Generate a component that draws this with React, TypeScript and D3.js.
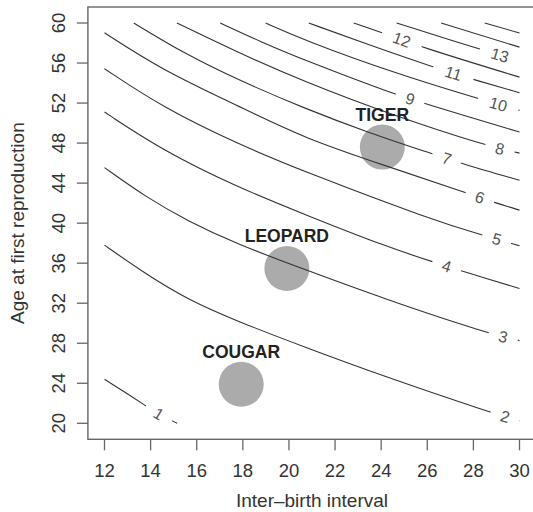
import * as d3 from "d3";

// contour levels and the points of each line (x = interval, y = age)
const c1 = [[12, 24.4], [13.0, 22.95], [13.84, 21.66], [14.4, 20.85], [15.15, 20.0]];
const c2 = [[12, 37.8], [13.8, 34.9], [15.58, 32.4], [17.75, 30.2], [20.7, 27.6], [24.08, 24.72], [28.72, 21.1], [30, 20.25]];
const c3 = [[12, 45.55], [13.8, 42.6], [15.58, 40.25], [17.75, 37.9], [20.7, 35.35], [24.17, 32.4], [28.64, 28.98], [30, 28.26]];
const c4 = [[12, 51.1], [14.5, 47.3], [17.75, 43.61], [20.7, 40.85], [24.25, 37.62], [26.46, 35.97], [27.84, 34.97], [30, 33.47]];
const c5 = [[12, 55.43], [14.5, 51.6], [17.75, 47.94], [20.7, 45.11], [26.25, 40.29], [28.41, 38.79], [30, 37.74]];
const c6 = [[12, 59.02], [14.5, 55.3], [17.75, 51.77], [20.7, 48.44], [24.24, 45.7], [27.78, 42.95], [28.93, 42.05], [30, 41.3]];
const c7 = [[13.27, 60], [15.5, 56.9], [17.75, 54.36], [20.7, 51.44], [23.5, 49.0], [26.19, 46.95], [27.49, 45.95], [30, 44.28]];
const c8 = [[15.14, 60], [17.75, 57.09], [20.7, 54.09], [24.6, 50.7], [28.5, 47.77], [30, 47.0]];
const c9 = [[17.02, 60], [18.8, 58.1], [20.7, 56.26], [24.6, 52.85], [25.83, 52.0], [30, 49.1]];
const c10 = [[18.99, 60], [20.7, 58.25], [24.5, 55.06], [28.21, 52.44], [30, 51.27]];
const c11 = [[20.86, 60], [23.44, 57.84], [26.26, 55.59], [27.99, 54.36], [30, 53.03]];
const c12 = [[22.81, 60], [23.96, 59.1], [25.74, 57.59], [30, 54.59]];
const c13 = [[24.67, 60], [28.21, 57.43], [30, 56.2]];
const c14 = [[26.6, 60], [30, 57.59]];
const c15 = [[28.49, 60], [30, 59.0]];

const levels = [1, 2, 3, 4, 5, 6, 7, 8, 9, 10, 11, 12, 13, 14, 15];
const contourLines = [c1, c2, c3, c4, c5, c6, c7, c8, c9, c10, c11, c12, c13, c14, c15];
// x position of the level label on each line (14 and 15 have none inside the plot)
const labelXs = [14.35, 29.37, 29.29, 26.84, 29.01, 28.28, 26.84, 29.15, 25.25, 29.08, 27.13, 24.89, 29.15, null, null];

const species = ["COUGAR", "LEOPARD", "TIGER"];
const speciesX = [17.93, 19.91, 24.05];
const speciesY = [23.9, 35.47, 47.6];

const xTicks = [12, 14, 16, 18, 20, 22, 24, 26, 28, 30];
const yTicks = [20, 24, 28, 32, 36, 40, 44, 48, 52, 56, 60];

const W = 533;
const H = 512;
const FONT = "'Liberation Sans', Arial, Helvetica, sans-serif";

export default function App() {
  const x = d3.scaleLinear().domain([11.28, 30.72]).range([87.9, 536.1]);
  const y = d3.scaleLinear().domain([18.4, 61.6]).range([439.3, 7]);

  // smooth the hand-read points a bit
  const line = d3
    .line<number[]>()
    .x((d) => x(d[0]))
    .y((d) => y(d[1]))
    .curve(d3.curveBasis);

  // where the label sits on its line, and the line's angle there
  const labelPos = (pts: number[][], lx: number) => {
    let i = 0;
    while (i < pts.length - 2 && pts[i + 1][0] < lx) i++;
    const a = pts[i];
    const b = pts[i + 1];
    const t = (lx - a[0]) / (b[0] - a[0]);
    const ly = a[1] + t * (b[1] - a[1]);
    const ang = (Math.atan2(y(b[1]) - y(a[1]), x(b[0]) - x(a[0])) * 180) / Math.PI;
    return { px: x(lx), py: y(ly), ang };
  };

  const [x0, x1] = x.range();
  const [yb, yt] = y.range();

  return (
    <svg width={W} height={H} style={{ position: "absolute", left: 0, top: 0, background: "#fff" }}>
      <defs>
        {levels.map((lv, k) => {
          const lx = labelXs[k];
          if (lx == null) return null;
          const p = labelPos(contourLines[k], lx);
          const gap = String(lv).length === 1 ? 30 : 42;
          return (
            <mask key={lv} id={`gap${lv}`} maskUnits="userSpaceOnUse" x={0} y={0} width={W} height={H}>
              <rect x={0} y={0} width={W} height={H} fill="#fff" />
              <rect
                x={-gap / 2}
                y={-6}
                width={gap}
                height={12}
                fill="#000"
                transform={`translate(${p.px},${p.py}) rotate(${p.ang})`}
              />
            </mask>
          );
        })}
      </defs>

      {/* species circles under the lines */}
      {species.map((s, i) => (
        <circle key={s} cx={x(speciesX[i])} cy={y(speciesY[i])} r={22.5} fill="#ababab" />
      ))}

      {/* contour lines */}
      {levels.map((lv, k) => (
        <path
          key={lv}
          d={line(contourLines[k]) || ""}
          fill="none"
          stroke="#333"
          strokeWidth={1.1}
          mask={labelXs[k] != null ? `url(#gap${lv})` : undefined}
        />
      ))}

      {/* level labels */}
      {levels.map((lv, k) => {
        const lx = labelXs[k];
        if (lx == null) return null;
        const p = labelPos(contourLines[k], lx);
        return (
          <text
            key={lv}
            transform={`translate(${p.px},${p.py}) rotate(${p.ang})`}
            textAnchor="middle"
            dominantBaseline="central"
            fontFamily={FONT}
            fontSize={16}
            fill="#555"
          >
            {lv}
          </text>
        );
      })}

      {/* species names */}
      {species.map((s, i) => (
        <text
          key={s}
          x={x(speciesX[i])}
          y={y(speciesY[i]) - 26.5}
          textAnchor="middle"
          fontFamily={FONT}
          fontWeight="bold"
          fontSize={17.5}
          fill="#222"
        >
          {s}
        </text>
      ))}

      {/* frame */}
      <rect x={x0} y={yt} width={x1 - x0} height={yb - yt} fill="none" stroke="#666" strokeWidth={1.4} />

      {/* x axis */}
      {xTicks.map((t) => (
        <g key={t}>
          <line x1={x(t)} x2={x(t)} y1={yb} y2={yb + 11} stroke="#666" strokeWidth={1.3} />
          <text x={x(t)} y={yb + 37.5} textAnchor="middle" fontFamily={FONT} fontSize={18.5} fill="#333">
            {t}
          </text>
        </g>
      ))}
      <text x={(x0 + x1) / 2} y={507} textAnchor="middle" fontFamily={FONT} fontSize={19} fill="#333">
        Inter–birth interval
      </text>

      {/* y axis */}
      {yTicks.map((t) => (
        <g key={t}>
          <line x1={x0} x2={x0 - 11} y1={y(t)} y2={y(t)} stroke="#666" strokeWidth={1.3} />
          <text
            transform={`translate(${x0 - 22.5},${y(t)}) rotate(-90)`}
            textAnchor="middle"
            fontFamily={FONT}
            fontSize={18.5}
            fill="#333"
          >
            {t}
          </text>
        </g>
      ))}
      <text
        transform={`translate(24,${(yb + yt) / 2}) rotate(-90)`}
        textAnchor="middle"
        fontFamily={FONT}
        fontSize={19}
        fill="#333"
      >
        Age at first reproduction
      </text>
    </svg>
  );
}
